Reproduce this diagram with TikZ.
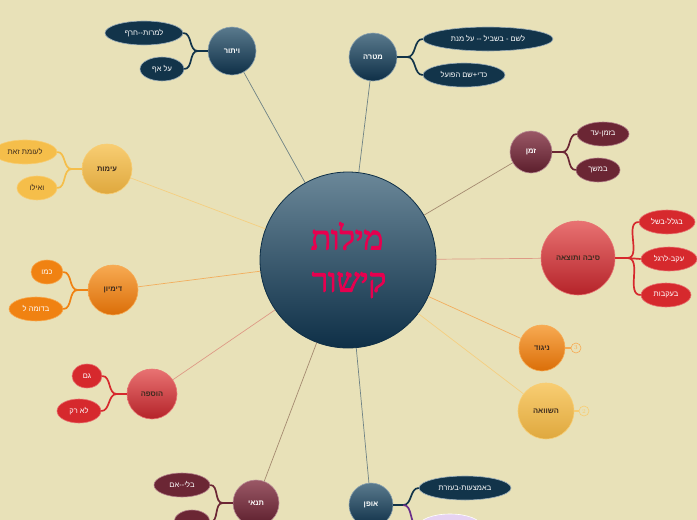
\documentclass[tikz,border=0pt]{standalone}
\usepackage{fontspec}
\newfontfamily\heb[Script=Hebrew]{Liberation Sans}
\newfontfamily\hebserif[Script=Hebrew, FakeBold=3]{Liberation Serif}
\usetikzlibrary{shapes.geometric}
\definecolor{bg}{HTML}{E8E1B8}
\definecolor{blueT}{HTML}{5A7A8D}\definecolor{blueB}{HTML}{0E2F47}\definecolor{blueD}{HTML}{12344A}
\definecolor{burT}{HTML}{9A5866}\definecolor{burB}{HTML}{5C1E2C}\definecolor{burD}{HTML}{6B2634}
\definecolor{redT}{HTML}{E87272}\definecolor{redB}{HTML}{B52329}\definecolor{redD}{HTML}{D6292D}
\definecolor{orT}{HTML}{F7AA52}\definecolor{orB}{HTML}{DB6E08}\definecolor{orD}{HTML}{F08212}
\definecolor{yeT}{HTML}{F8CD72}\definecolor{yeB}{HTML}{DFA83E}\definecolor{yeD}{HTML}{F5BE4A}
\definecolor{purD}{HTML}{6A2E8A}\definecolor{lav}{HTML}{E6D2F2}
\definecolor{dtext}{HTML}{3B2A1E}\definecolor{ctext}{HTML}{E6004F}
\definecolor{lnBlue}{HTML}{6F8385}\definecolor{lnBrown}{HTML}{A48A70}\definecolor{lnSalmon}{HTML}{DE9A86}
\definecolor{lnOrange}{HTML}{F2AE5E}\definecolor{lnYellow}{HTML}{F5CF80}
\newcommand\hw[1]{\hbox{#1}}
\tikzset{
  topic/.style={circle, inner sep=0pt, font=\heb\bfseries\fontsize{7.5}{9}\selectfont, shading=axis, shading angle=0, line width=0.6pt},
  child/.style={ellipse, inner sep=0pt, minimum height=24pt, font=\heb\fontsize{7.5}{9}\selectfont, line width=0.6pt},
  tblue/.style={topic, top color=blueT, bottom color=blueB, draw=blueT!70!white, text=white},
  tbur/.style={topic, top color=burT, bottom color=burB, draw=burT!70!white, text=white},
  tred/.style={topic, top color=redT, bottom color=redB, draw=redT, text=dtext},
  tor/.style={topic, top color=orT, bottom color=orB, draw=orT, text=dtext},
  tye/.style={topic, top color=yeT, bottom color=yeB, draw=yeT, text=dtext},
  cblue/.style={child, fill=blueD, draw=blueT!60!white, text=white},
  cbur/.style={child, fill=burD, draw=burT!80!white, text=white},
  cred/.style={child, fill=redD, draw=redT, text=white},
  cor/.style={child, fill=orD, draw=orT, text=white},
  cye/.style={child, fill=yeD, draw=yeT, text=dtext},
  clav/.style={child, fill=lav, draw=white},
  mainline/.style={line width=0.7pt},
  branch/.style={line width=1.7pt},
  markc/.style={circle, draw=#1, line width=0.6pt, minimum size=10pt, inner sep=0pt, text=#1, font=\fontsize{6}{7}\selectfont}
}
\begin{document}
\begin{tikzpicture}[x=1pt, y=-1pt]
\useasboundingbox (0,0) rectangle (697,520);
\clip (0,0) rectangle (697,520);
\fill[bg] (-5,-5) rectangle (702,525);

% center
\node[circle, minimum size=176pt, inner sep=0pt, shading=axis, top color=blueT!90!white, middle color=blueB!80!blueT, bottom color=blueB, draw=blueB, line width=0.8pt] (C) at (348,260) {};
\node[font=\hebserif\fontsize{33}{40}\selectfont, text=ctext] (Ct1) at (347,236) {מילות};
\node[font=\hebserif\fontsize{33}{40}\selectfont, text=ctext] (Ct2) at (349,285) {קישור};

% topics
\node[tblue, minimum size=48pt] (V) at (232,51) {ויתור};
\node[tblue, minimum size=48pt] (M) at (373,57) {מטרה};
\node[tbur, minimum size=42pt] (Z) at (531,152) {זמן};
\node[tred, minimum size=74pt] (S) at (578,258) {ותוצאה סיבה};
\node[tor, minimum size=46pt] (N) at (542,348) {ניגוד};
\node[tye, minimum size=56pt] (H) at (546,411) {השוואה};
\node[tye, minimum size=50pt] (I) at (107,169) {עימות};
\node[tor, minimum size=50pt] (D) at (113,290) {דימיון};
\node[tred, minimum size=50pt] (P) at (152,394) {הוספה};
\node[tbur, minimum size=46pt] (T) at (256,503) {תנאי};
\node[tblue, minimum size=44pt] (O) at (371,505) {אופן};

% children
\node[cblue, minimum width=78pt] (V1) at (144,33) {\hw{חרף}--\hw{למרות}};
\node[cblue, minimum width=44pt] (V2) at (162,69) {אף על};
\node[cblue, minimum width=130pt] (M1) at (488,39) {מנת על -- בשביל - לשם};
\node[cblue, minimum width=82pt] (M2) at (464,75) {הפועל \hw{שם}+\hw{כדי}};
\node[cbur, minimum width=52pt] (Z1) at (603,134) {\hw{עד}-\hw{בזמן}};
\node[cbur, minimum width=44pt] (Z2) at (598,170) {במשך};
\node[cred, minimum width=56pt] (S1) at (667,222) {\hw{בשל}-\hw{בגלל}};
\node[cred, minimum width=56pt] (S2) at (669,259) {\hw{לרגל}-\hw{עקב}};
\node[cred, minimum width=50pt] (S3) at (666,295) {בעקבות};
\node[cye, minimum width=64pt] (I1) at (25,152) {זאת לעומת};
\node[cye, minimum width=40pt] (I2) at (37,188) {ואילו};
\node[cor, minimum width=32pt] (D1) at (47,272) {כמו};
\node[cor, minimum width=54pt] (D2) at (36,309) {ל בדומה};
\node[cred, minimum width=30pt] (P1) at (87,376) {גם};
\node[cred, minimum width=44pt] (P2) at (79,411) {רק לא};
\node[cbur, minimum width=56pt] (T1) at (182,485) {\hw{אם}--\hw{בלי}};
\node[cbur, minimum width=36pt] (T2) at (192,522) {};
\node[cblue, minimum width=92pt] (O1) at (465,488) {\hw{בעזרת}-\hw{באמצעות}};
\node[clav, minimum width=62pt] (O2) at (450,526) {};

% collapsed markers
\node[markc=orT] (N3) at (576,348) {3};
\node[markc=yeT] (H2) at (584,411) {2};

% center connectors
\draw[mainline, lnBlue] (C) -- (V);
\draw[mainline, lnBlue] (C) -- (M);
\draw[mainline, lnBrown] (C) -- (Z);
\draw[mainline, lnSalmon] (C) -- (S);
\draw[mainline, lnOrange] (C) -- (N);
\draw[mainline, lnYellow] (C) -- (H);
\draw[mainline, lnYellow] (C) -- (I);
\draw[mainline, lnOrange] (C) -- (D);
\draw[mainline, lnSalmon] (C) -- (P);
\draw[mainline, lnBrown] (C) -- (T);
\draw[mainline, lnBlue] (C) -- (O);

% branches (right side)
\draw[branch, blueD] (M.east) -- ++(10,0) coordinate (Mj);
\draw[branch, blueD] (Mj) to[out=0,in=180] (M1.west);
\draw[branch, blueD] (Mj) to[out=0,in=180] (M2.west);
\draw[branch, burD] (Z.east) -- ++(10,0) coordinate (Zj);
\draw[branch, burD] (Zj) to[out=0,in=180] (Z1.west);
\draw[branch, burD] (Zj) to[out=0,in=180] (Z2.west);
\draw[branch, redD] (S.east) -- ++(12,0) coordinate (Sj);
\draw[branch, redD] (Sj) to[out=0,in=180] (S1.west);
\draw[branch, redD] (Sj) -- (S2.west);
\draw[branch, redD] (Sj) to[out=0,in=180] (S3.west);
\draw[branch, blueD] (O.east) -- ++(10,0) coordinate (Oj);
\draw[branch, blueD] (Oj) to[out=0,in=180] (O1.west);
\draw[branch, purD] (Oj) to[out=0,in=180] (O2.west);
\draw[line width=1.2pt, orT] (N.east) -- (N3.west);
\draw[line width=1.2pt, yeT] (H.east) -- (H2.west);

% branches (left side)
\draw[branch, blueD] (V.west) -- ++(-10,0) coordinate (Vj);
\draw[branch, blueD] (Vj) to[out=180,in=0] (V1.east);
\draw[branch, blueD] (Vj) to[out=180,in=0] (V2.east);
\draw[branch, yeD] (I.west) -- ++(-10,0) coordinate (Ij);
\draw[branch, yeD] (Ij) to[out=180,in=0] (I1.east);
\draw[branch, yeD] (Ij) to[out=180,in=0] (I2.east);
\draw[branch, orD] (D.west) -- ++(-10,0) coordinate (Dj);
\draw[branch, orD] (Dj) to[out=180,in=0] (D1.east);
\draw[branch, orD] (Dj) to[out=180,in=0] (D2.east);
\draw[branch, redD] (P.west) -- ++(-10,0) coordinate (Pj);
\draw[branch, redD] (Pj) to[out=180,in=0] (P1.east);
\draw[branch, redD] (Pj) to[out=180,in=0] (P2.east);
\draw[branch, burD] (T.west) -- ++(-10,0) coordinate (Tj);
\draw[branch, burD] (Tj) to[out=180,in=0] (T1.east);
\draw[branch, burD] (Tj) to[out=180,in=0] (T2.east);
\end{tikzpicture}
\end{document}
